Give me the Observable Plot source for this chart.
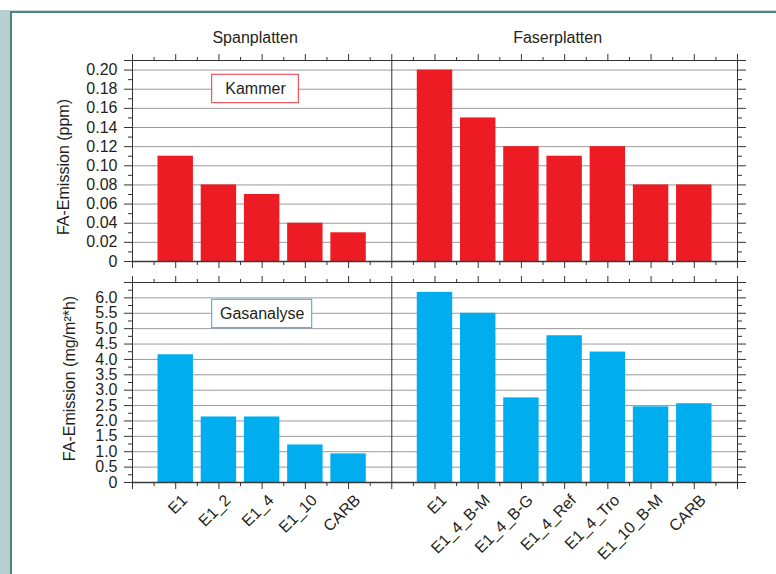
<!DOCTYPE html>
<html>
<head>
<meta charset="utf-8">
<script src="https://cdn.jsdelivr.net/npm/d3@7"></script>
<script src="https://cdn.jsdelivr.net/npm/@observablehq/plot@0.6"></script>
<style>
  html, body { margin: 0; padding: 0; background: #fff; overflow: hidden; }
  #wrap { position: relative; width: 776px; height: 574px; }
  #wrap svg { position: absolute; left: 0; }
  .deco { position: absolute; z-index: 5; }
</style>
</head>
<body>
<div id="wrap">
  <div class="deco" style="left:0;top:10px;width:10px;height:564px;background:#b8ced1"></div>
  <div class="deco" style="left:10px;top:10px;width:766px;height:1px;background:#c9dadc"></div>
  <div class="deco" style="left:10px;top:11px;width:2px;height:563px;background:#4f8383"></div>
  <div class="deco" style="left:10px;top:11px;width:766px;height:2px;background:#4f8383"></div>
</div>
<script>
// ---- data ----
const groups = ["Spanplatten", "Faserplatten"];
const spanCats = ["E1", "E1_2", "E1_4", "E1_10", "CARB"];
const faserCats = ["E1", "E1_4_B-M", "E1_4_B-G", "E1_4_Ref", "E1_4_Tro", "E1_10_B-M", "CARB"];
const spanKammer = [0.11, 0.08, 0.07, 0.04, 0.03];
const faserKammer = [0.20, 0.15, 0.12, 0.11, 0.12, 0.08, 0.08];
const spanGas = [4.15, 2.13, 2.13, 1.22, 0.93];
const faserGas = [6.18, 5.50, 2.75, 4.77, 4.24, 2.46, 2.56];
const rowLabels = ["Kammer", "Gasanalyse"];
const yLabels = ["FA-Emission (ppm)", "FA-Emission (mg/m²*h)"];
const topYTicks = [0, 0.02, 0.04, 0.06, 0.08, 0.10, 0.12, 0.14, 0.16, 0.18, 0.20];
const botYTicks = [0, 0.5, 1.0, 1.5, 2.0, 2.5, 3.0, 3.5, 4.0, 4.5, 5.0, 5.5, 6.0];

// ---- layout helpers (derived) ----
const FONT = "'Liberation Sans', Arial, Helvetica, sans-serif";
const TXT = "#231f20";
const AX = "#333";
const nSpan = spanCats.length, nFaser = faserCats.length;
const xMax = (nSpan + 1) + (nFaser + 1);          // 14 units
const divider = nSpan + 1;                         // 6
const posSpan = spanCats.map((_, i) => i + 1);
const posFaser = faserCats.map((_, i) => divider + 1 + i);
const allCats = [...spanCats, ...faserCats];
const allPos = [...posSpan, ...posFaser];
const majorX = d3.range(0, xMax + 1);
const minorX = d3.range(0, xMax).map(d => d + 0.5);

function rows(vals) {
  return allCats.map((c, i) => ({cat: c, pos: allPos[i], value: vals[i]}));
}
const kammerData = rows([...spanKammer, ...faserKammer]);
const gasData = rows([...spanGas, ...faserGas]);

function panel({data, fill, yMax, majorY, fmt, minorStep, height, marginTop, marginBottom, box, extra}) {
  const majors = [...majorY, yMax];
  const minors = majorY.map(d => d + minorStep).filter(d => d < yMax - 1e-9);
  return Plot.plot({
    width: 776,
    height,
    marginLeft: 132,
    marginRight: 39,
    marginTop,
    marginBottom,
    style: {fontFamily: FONT, fontSize: "16px", color: TXT, background: "transparent", overflow: "visible"},
    x: {type: "linear", domain: [0, xMax], axis: null},
    y: {type: "linear", domain: [0, yMax], axis: null},
    marks: [
      Plot.ruleY(majorY.filter(d => d > 0), {stroke: "#9a9a9a", strokeWidth: 1}),
      Plot.rect(data, {x1: d => d.pos - 0.41, x2: d => d.pos + 0.41, y1: () => 0, y2: "value", fill}),
      Plot.rect([box], {x1: d => d.x1, x2: d => d.x2, y1: d => d.y1, y2: d => d.y2, fill: "white", stroke: box.stroke, strokeWidth: 1}),
      Plot.text([box], {x: d => (d.x1 + d.x2) / 2, y: d => (d.y1 + d.y2) / 2, text: d => d.label, fontSize: 16, fill: TXT}),
      Plot.ruleY([yMax], {stroke: AX, strokeWidth: 1}),
      Plot.ruleY([0], {stroke: "#3a3a3a", strokeWidth: 1.4}),
      Plot.ruleX([0, divider, xMax], {stroke: AX, strokeWidth: 1}),
      Plot.axisX({anchor: "top", ticks: majorX, tickSize: 7, tickFormat: () => "", stroke: AX, label: null}),
      Plot.axisX({anchor: "top", ticks: minorX, tickSize: 4, tickFormat: () => "", stroke: AX, label: null}),
      Plot.axisX({anchor: "bottom", ticks: majorX, tickSize: 7, tickFormat: () => "", stroke: AX, label: null}),
      Plot.axisX({anchor: "bottom", ticks: minorX, tickSize: 4, tickFormat: () => "", stroke: AX, label: null}),
      Plot.axisY({anchor: "left", ticks: majors, tickSize: 8, tickPadding: 7, tickFormat: d => (d >= yMax - 1e-9 ? "" : fmt(d)), stroke: AX, fill: TXT, fontSize: 16, label: null}),
      Plot.axisY({anchor: "left", ticks: minors, tickSize: 4, tickFormat: () => "", stroke: AX, label: null}),
      Plot.axisY({anchor: "right", ticks: majors, tickSize: 8, tickFormat: () => "", stroke: AX, label: null}),
      Plot.axisY({anchor: "right", ticks: minors, tickSize: 4, tickFormat: () => "", stroke: AX, label: null}),
      ...extra
    ]
  });
}

const wrap = document.getElementById("wrap");

const topPlot = panel({
  data: kammerData, fill: "#ed1c24", yMax: 0.21, majorY: topYTicks,
  fmt: d => (d === 0 ? "0" : d.toFixed(2)), minorStep: 0.01,
  height: 272, marginTop: 60, marginBottom: 11,
  box: {x1: 1.844, x2: 3.849, y1: 0.1654, y2: 0.1951, stroke: "#ec3440", label: rowLabels[0]},
  extra: [
    Plot.text(groups, {x: (d, i) => (i === 0 ? divider / 2 : divider + (xMax - divider) / 2), y: () => 0.21, text: d => d, dy: -23, dx: -7, fontSize: 16, fill: TXT}),
    Plot.text([yLabels[0]], {frameAnchor: "left", textAnchor: "middle", text: d => d, rotate: -90, dx: -68.5, dy: 6, fontSize: 16, fill: TXT})
  ]
});
topPlot.style.top = "0px";
wrap.appendChild(topPlot);

const bottomPlot = panel({
  data: gasData, fill: "#00aeef", yMax: 6.5, majorY: botYTicks,
  fmt: d => (d === 0 ? "0" : d.toFixed(1)), minorStep: 0.25,
  height: 302, marginTop: 10, marginBottom: 92,
  box: {x1: 1.844, x2: 4.159, y1: 5.015, y2: 5.938, stroke: "#2aa9e0", label: rowLabels[1]},
  extra: [
    Plot.text(gasData, {x: "pos", y: () => 0, text: "cat", rotate: -45, textAnchor: "end", dx: 9, dy: 15, fontSize: 16, fill: TXT}),
    Plot.text([yLabels[1]], {frameAnchor: "left", textAnchor: "middle", text: d => d, rotate: -90, dx: -63, dy: -4, fontSize: 16, fill: TXT})
  ]
});
bottomPlot.style.top = "272px";
wrap.appendChild(bottomPlot);
</script>
</body>
</html>
